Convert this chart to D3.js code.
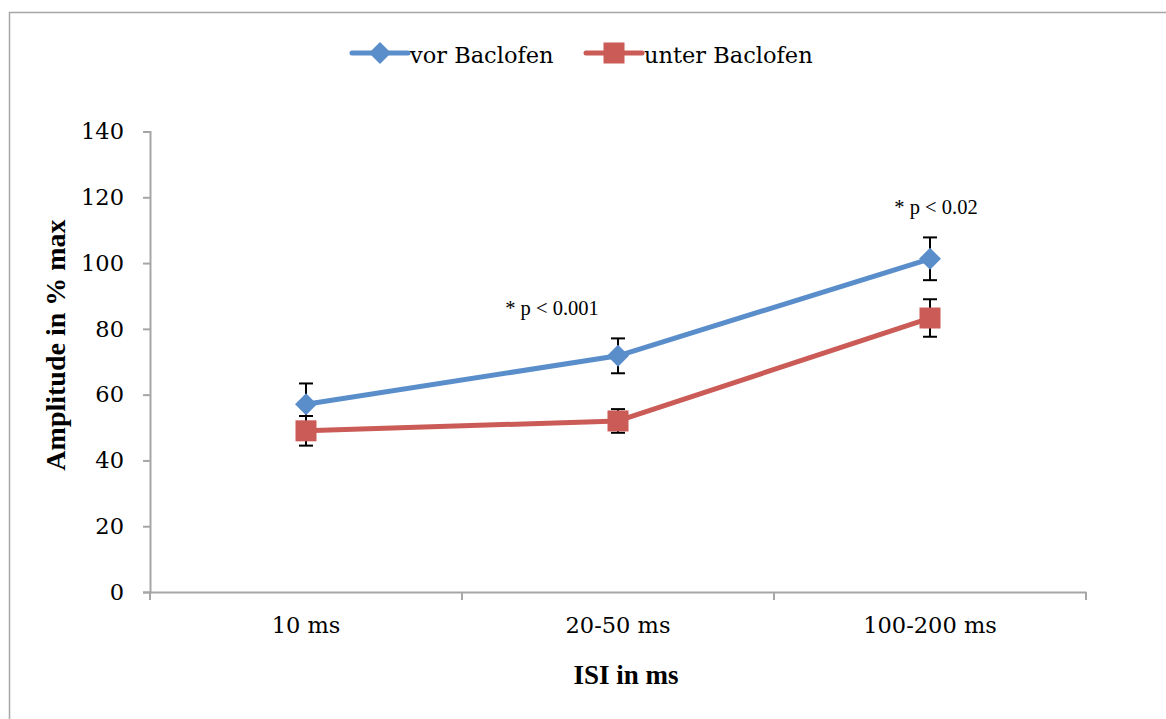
<!DOCTYPE html>
<html><head><meta charset="utf-8">
<script src="https://cdn.jsdelivr.net/npm/d3@7"></script>
<style>
html,body{margin:0;padding:0;background:#fff;}
svg{display:block;}
</style></head>
<body>
<script>
const categories = ["10 ms", "20-50 ms", "100-200 ms"];
const seriesNames = ["vor Baclofen", "unter Baclofen"];
const vorValues = [57.1, 71.8, 101.3];
const vorErrors = [6.3, 5.3, 6.5];
const unterValues = [49.0, 52.0, 83.3];
const unterErrors = [4.5, 3.6, 5.7];
const yTicks = [0, 20, 40, 60, 80, 100, 120, 140];
const annotations = ["* p < 0.001", "* p < 0.02"];
const annotationCats = ["20-50 ms", "100-200 ms"];
const annotationY = [84.3, 115];

const W = 1166, H = 719;
const m = {left: 150, right: 1086, top: 131.5, bottom: 592};
const colors = ["#5A8ECB", "#CB5B57"];

const svg = d3.select("body").append("svg").attr("width", W).attr("height", H);

svg.append("rect").attr("x", 9.5).attr("y", 12.5).attr("width", 1170).attr("height", 720)
  .attr("fill", "none").attr("stroke", "#a6a6a6").attr("stroke-width", 1.5);

const x = d3.scaleBand().domain(categories).range([m.left, m.right]).padding(0);
const y = d3.scaleLinear().domain([0, 140]).range([m.bottom, m.top]);

const axisColor = "#a6a6a6";
const serif = "'Liberation Serif', 'Times New Roman', serif";
const wide = "'DejaVu Serif', serif";

// Y axis
const yAxis = svg.append("g").attr("transform", `translate(${m.left},0)`)
  .call(d3.axisLeft(y).tickValues(yTicks).tickSize(7).tickPadding(19));
yAxis.attr("font-family", wide).attr("font-size", 22.5);
yAxis.select(".domain").attr("stroke", axisColor).attr("stroke-width", 2);
yAxis.selectAll(".tick line").attr("stroke", axisColor).attr("stroke-width", 2);
yAxis.selectAll(".tick text").attr("fill", "#000");

// X axis
const xAxis = svg.append("g").attr("transform", `translate(0,${m.bottom})`)
  .call(d3.axisBottom(x).tickSize(0).tickPadding(25));
xAxis.attr("font-family", wide).attr("font-size", 22.5);
xAxis.select(".domain").attr("stroke", axisColor).attr("stroke-width", 2);
xAxis.selectAll(".tick text").attr("fill", "#000");
// boundary ticks
const bounds = categories.map(c => x(c)).concat([x(categories[categories.length-1]) + x.bandwidth()]);
xAxis.selectAll(".btick").data(bounds).enter().append("line")
  .attr("x1", d => d).attr("x2", d => d).attr("y1", 0).attr("y2", 8)
  .attr("stroke", axisColor).attr("stroke-width", 2);

// Axis titles
svg.append("text").attr("x", 626).attr("y", 684)
  .attr("text-anchor", "middle").attr("font-family", serif).attr("font-weight", "bold")
  .attr("font-size", 27).text("ISI in ms");
svg.append("text").attr("transform", `translate(65,345) rotate(-90)`)
  .attr("text-anchor", "middle").attr("font-family", serif).attr("font-weight", "bold")
  .attr("font-size", 28).text("Amplitude in % max");

const cx = c => x(c) + x.bandwidth() / 2;
const series = [
  {name: seriesNames[0], values: vorValues, errors: vorErrors, color: colors[0], shape: "diamond"},
  {name: seriesNames[1], values: unterValues, errors: unterErrors, color: colors[1], shape: "square"}
];

const line = d3.line().x(d => cx(d.c)).y(d => y(d.v));

function drawMarker(g, shape, px, py, color) {
  if (shape === "diamond") {
    const s = 11;
    g.append("path").attr("d", `M${px},${py - s}L${px + s},${py}L${px},${py + s}L${px - s},${py}Z`)
      .attr("fill", color);
  } else {
    const s = 10.5;
    g.append("rect").attr("x", px - s).attr("y", py - s).attr("width", 2 * s).attr("height", 2 * s)
      .attr("fill", color);
  }
}

series.forEach(s => {
  const g = svg.append("g");
  const pts = s.values.map((v, i) => ({c: categories[i], v: v, e: s.errors[i]}));
  pts.forEach(p => {
    const px = cx(p.c);
    g.append("line").attr("x1", px).attr("x2", px).attr("y1", y(p.v + p.e)).attr("y2", y(p.v - p.e))
      .attr("stroke", "#000").attr("stroke-width", 2);
    [p.v + p.e, p.v - p.e].forEach(yy => {
      g.append("line").attr("x1", px - 7).attr("x2", px + 7).attr("y1", y(yy)).attr("y2", y(yy))
        .attr("stroke", "#000").attr("stroke-width", 2);
    });
  });
  g.append("path").datum(pts).attr("d", line).attr("fill", "none")
    .attr("stroke", s.color).attr("stroke-width", 5).attr("stroke-linejoin", "round");
  pts.forEach(p => drawMarker(g, s.shape, cx(p.c), y(p.v), s.color));
});

// Annotations
annotations.forEach((t, i) => {
  const off = i === 0 ? -66 : 6;
  svg.append("text").attr("x", cx(annotationCats[i]) + off).attr("y", y(annotationY[i]))
    .attr("text-anchor", "middle").attr("font-family", serif).attr("font-size", 20.5).text(t);
});

// Legend
const legendX = [352, 586];
series.forEach((s, i) => {
  const g = svg.append("g").attr("transform", `translate(${legendX[i]},53)`);
  g.append("line").attr("x1", 0).attr("x2", 56).attr("y1", 0).attr("y2", 0)
    .attr("stroke", s.color).attr("stroke-width", 5).attr("stroke-linecap", "round");
  drawMarker(g, s.shape, 28, 0, s.color);
  g.append("text").attr("x", 58).attr("y", 10).attr("font-family", wide).attr("font-size", 22.5)
    .text(s.name);
});
</script>
</body></html>
